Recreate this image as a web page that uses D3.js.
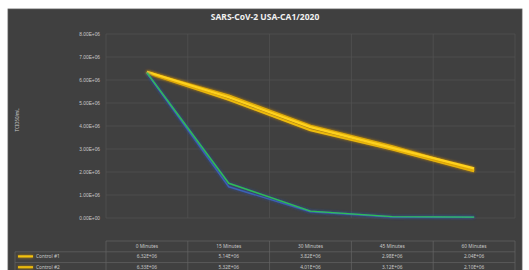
<!DOCTYPE html>
<html>
<head>
<meta charset="utf-8">
<script src="https://cdn.jsdelivr.net/npm/d3@7"></script>
<style>
  body { margin: 0; background: #fff; }
  svg { display: block; font-family: "Noto Sans", "DejaVu Sans", sans-serif; }
</style>
</head>
<body>
<svg id="chart" width="529" height="270"></svg>
<script>
// values (TCID50/mL)
const categories = ["0 Minutes", "15 Minutes", "30 Minutes", "45 Minutes", "60 Minutes"];
const yTicks = [0, 1e6, 2e6, 3e6, 4e6, 5e6, 6e6, 7e6, 8e6];
const seriesNames = ["Control #1", "Control #2", "Control #3", "Treated #1", "Treated #2"];
const control1 = [6.32e6, 5.14e6, 3.82e6, 2.98e6, 2.04e6];
const control2 = [6.33e6, 5.32e6, 4.01e6, 3.12e6, 2.10e6];
const control3 = [6.36e6, 5.25e6, 3.95e6, 3.05e6, 2.16e6];
const treated1 = [6.30e6, 1.36e6, 0.27e6, 0.04e6, 0.03e6];
const treated2 = [6.32e6, 1.51e6, 0.30e6, 0.06e6, 0.04e6];

const seriesValues = [control1, control2, control3, treated1, treated2];
const lineColors = ["#f2c20f", "#e8b90c", "#ffd21f", "#3f63b8", "#2fbf52"];
const glowColors = ["#c98a00", "#c98a00", "#c98a00", "#2b4fa8", "#2b4fa8"];

const svg = d3.select("#chart");
const padding = { top: 34, right: 14, bottom: 52, left: 106 };
const width = 529, height = 270;

// format like Excel scientific: 6.32E+06
function sci(v) {
    const s = d3.format(".2e")(v); // 6.32e+6
    const [m, e] = s.split("e");
    const n = Math.abs(+e);
    return m + "E" + (+e < 0 ? "-" : "+") + (n < 10 ? "0" + n : n);
}

// dark panel
svg.append("rect")
    .attr("x", 8).attr("y", 9)
    .attr("width", 514).attr("height", 270)
    .attr("fill", "#404040")
    .attr("stroke", "#5a5a5a").attr("stroke-width", 0.8);

svg.append("text")
    .attr("x", 265).attr("y", 20)
    .attr("text-anchor", "middle")
    .attr("fill", "#f0f0f0")
    .attr("font-size", 8.5)
    .attr("font-weight", "bold")
    .text("SARS-CoV-2 USA-CA1/2020");

const xScale = d3.scaleBand()
    .domain(categories)
    .range([padding.left, width - padding.right]);
const yScale = d3.scaleLinear()
    .domain([0, 8e6])
    .range([height - padding.bottom, padding.top]);

// horizontal gridlines
svg.append("g")
    .selectAll("line")
    .data(yTicks)
    .join("line")
    .attr("x1", padding.left).attr("x2", width - padding.right)
    .attr("y1", d => yScale(d)).attr("y2", d => yScale(d))
    .attr("stroke", "#555").attr("stroke-width", 0.7);

// vertical gridlines on category boundaries
const bounds = categories.map(c => xScale(c)).concat([width - padding.right]);
svg.append("g")
    .selectAll("line")
    .data(bounds)
    .join("line")
    .attr("x1", d => d).attr("x2", d => d)
    .attr("y1", padding.top).attr("y2", height - padding.bottom)
    .attr("stroke", "#555").attr("stroke-width", 0.7);

// y axis labels
const yAxis = d3.axisLeft(yScale).tickValues(yTicks).tickFormat(sci).tickSize(0).tickPadding(6);
svg.append("g")
    .attr("transform", "translate(" + padding.left + ",0)")
    .call(yAxis)
    .call(g => g.select(".domain").remove())
    .selectAll("text")
    .attr("fill", "#c8c8c8")
    .attr("font-size", 4.8);

svg.append("text")
    .attr("transform", "translate(19,120) rotate(-90)")
    .attr("text-anchor", "middle")
    .attr("fill", "#c8c8c8")
    .attr("font-size", 4.4)
    .text("TCID50/mL");

// glow filters (userSpaceOnUse so flat lines still glow)
const defs = svg.append("defs");
glowColors.forEach((c, i) => {
    const f = defs.append("filter").attr("id", "glow" + i)
        .attr("filterUnits", "userSpaceOnUse")
        .attr("x", 0).attr("y", 0).attr("width", width).attr("height", height);
    f.append("feGaussianBlur").attr("in", "SourceAlpha").attr("stdDeviation", 1.8).attr("result", "b");
    f.append("feFlood").attr("flood-color", c).attr("flood-opacity", 0.9);
    f.append("feComposite").attr("in2", "b").attr("operator", "in").attr("result", "g");
    const m = f.append("feMerge");
    m.append("feMergeNode").attr("in", "g");
    m.append("feMergeNode").attr("in", "SourceGraphic");
});

const line = d3.line()
    .x((d, i) => xScale(categories[i]) + xScale.bandwidth() / 2)
    .y(d => yScale(d));

svg.append("g")
    .selectAll("path")
    .data(seriesValues)
    .join("path")
    .attr("d", d => line(d))
    .attr("fill", "none")
    .attr("stroke", (d, i) => lineColors[i])
    .attr("stroke-width", (d, i) => i < 3 ? 2.2 : 1.4)
    .attr("stroke-linejoin", "round")
    .attr("filter", (d, i) => "url(#glow" + i + ")");

// data table (only the rows that fit inside the picture)
const tableTop = 241, rowH = 10.8;
const tableLeft = 15, tableRight = width - padding.right;
const tableRows = seriesNames.slice(0, 2);
const table = svg.append("g");

table.append("line")
    .attr("x1", padding.left).attr("x2", tableRight)
    .attr("y1", tableTop).attr("y2", tableTop)
    .attr("stroke", "#666").attr("stroke-width", 0.7);
d3.range(1, tableRows.length + 1).forEach(r => {
    table.append("line")
        .attr("x1", tableLeft).attr("x2", tableRight)
        .attr("y1", tableTop + r * rowH).attr("y2", tableTop + r * rowH)
        .attr("stroke", "#666").attr("stroke-width", 0.7);
});
table.selectAll(".vline")
    .data(bounds)
    .join("line")
    .attr("x1", d => d).attr("x2", d => d)
    .attr("y1", tableTop).attr("y2", height)
    .attr("stroke", "#666").attr("stroke-width", 0.7);
table.append("line")
    .attr("x1", tableLeft).attr("x2", tableLeft)
    .attr("y1", tableTop + rowH).attr("y2", height)
    .attr("stroke", "#666").attr("stroke-width", 0.7);

table.selectAll(".head")
    .data(categories)
    .join("text")
    .attr("x", d => xScale(d) + xScale.bandwidth() / 2)
    .attr("y", tableTop + rowH / 2 + 1.7)
    .attr("text-anchor", "middle")
    .attr("fill", "#c8c8c8")
    .attr("font-size", 4.8)
    .text(d => d);

tableRows.forEach((name, r) => {
    const cy = tableTop + (r + 1) * rowH + rowH / 2 - 0.8;
    table.append("rect")
        .attr("x", 18).attr("y", cy - 1.1)
        .attr("width", 15).attr("height", 2.2)
        .attr("fill", lineColors[r])
        .attr("filter", "url(#glow" + r + ")");
    table.append("text")
        .attr("x", 36).attr("y", cy + 1.7)
        .attr("fill", "#c8c8c8")
        .attr("font-size", 4.8)
        .text(name);
    table.selectAll(".v" + r)
        .data(seriesValues[r])
        .join("text")
        .attr("x", (d, i) => xScale(categories[i]) + xScale.bandwidth() / 2)
        .attr("y", cy + 1.7)
        .attr("text-anchor", "middle")
        .attr("fill", "#c8c8c8")
        .attr("font-size", 4.8)
        .text(d => sci(d));
});
</script>
</body>
</html>
